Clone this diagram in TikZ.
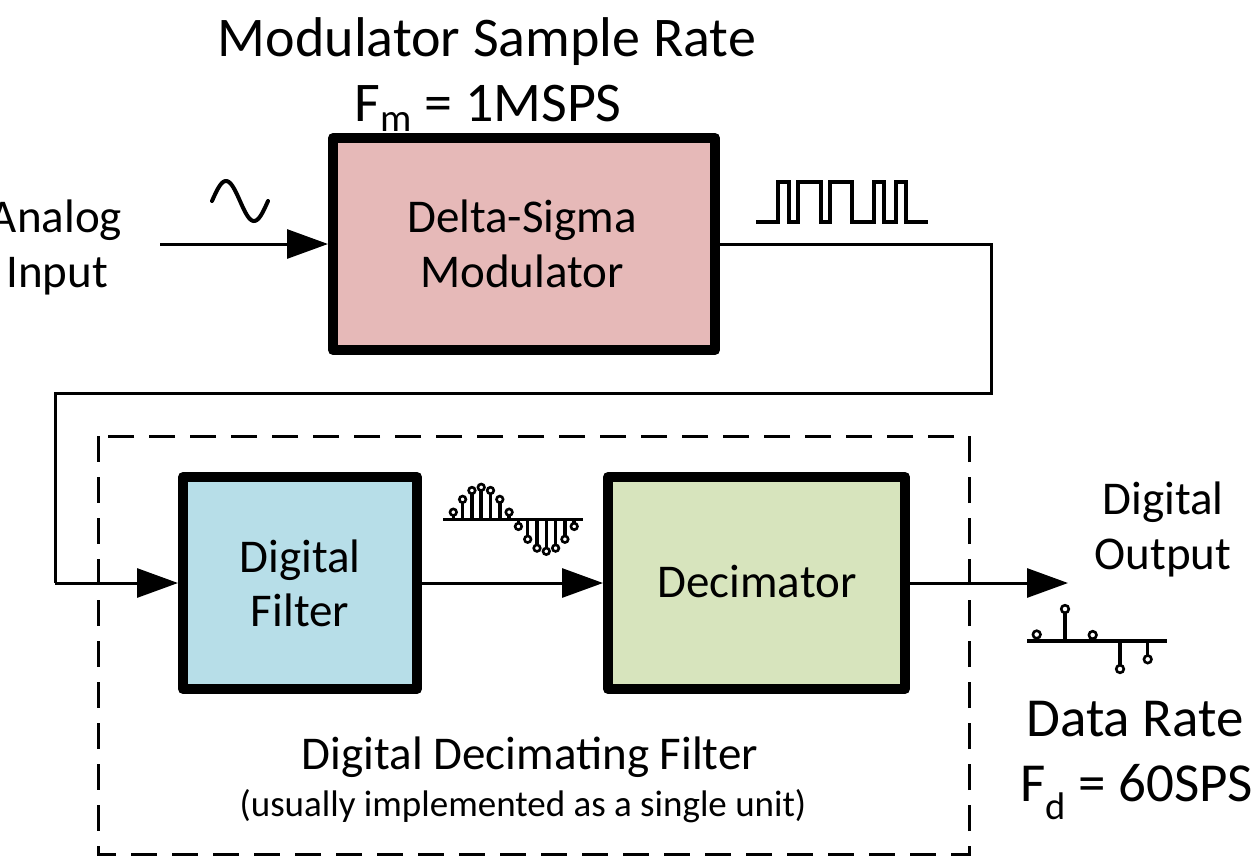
\documentclass[tikz,border=0pt]{standalone}
\usepackage{fontspec}
\setmainfont{Carlito}
\usetikzlibrary{arrows.meta}
\definecolor{modfill}{HTML}{E6B9B8}
\definecolor{filtfill}{HTML}{B7DEE8}
\definecolor{decfill}{HTML}{D7E4BD}
\begin{document}
\begin{tikzpicture}[x=1pt,y=-1pt,
  blockbox/.style={draw=black,line width=10pt,line join=round,inner sep=0pt},
  wire/.style={line width=3pt},
  arr/.style={wire,-{Triangle[length=41pt,width=29pt]}},
  lbl/.style={inner sep=0pt,anchor=base,font=\fontsize{47}{55}\selectfont},
  biglbl/.style={inner sep=0pt,anchor=base,font=\fontsize{56}{64}\selectfont},
  smalllbl/.style={inner sep=0pt,anchor=base,font=\fontsize{37}{44}\selectfont},
  sig/.style={line width=4pt,line join=miter},
  stem/.style={line width=3.5pt},
  dot/.style={line width=2.6pt,fill=white}]
\useasboundingbox (0,0) rectangle (1257,860);
% dashed enclosure
\draw[line width=3pt,dash pattern=on 26pt off 15pt] (98,436) rectangle (969,854);
% blocks
\node[blockbox,fill=modfill,minimum width=382pt,minimum height=212pt] (mod) at (524,244) {};
\node[blockbox,fill=filtfill,minimum width=234pt,minimum height=212pt] (filt) at (300,583) {};
\node[blockbox,fill=decfill,minimum width=297pt,minimum height=212pt] (dec) at (756.5,583) {};
% block labels
\node[lbl] (t1) at (522,232) {Delta-Sigma};
\node[lbl] (t2) at (522,287) {Modulator};
\node[lbl] (t3) at (300,572) {Digital};
\node[lbl] (t4) at (300,626) {Filter};
\node[lbl] (t5) at (757,597) {Decimator};
% other labels
\node[biglbl] (title1) at (487,56) {Modulator Sample Rate};
\node[biglbl] (title2) at (488,121) {F\textsubscript{m} = 1MSPS};
\node[lbl] (ain1) at (56,232) {Analog};
\node[lbl] (ain2) at (57,287) {Input};
\node[lbl] (dout1) at (1163,514) {Digital};
\node[lbl] (dout2) at (1163,569) {Output};
\node[biglbl,font=\fontsize{55}{64}\selectfont] (dr1) at (1135,736) {Data Rate};
\node[biglbl,font=\fontsize{55}{64}\selectfont,anchor=base west] (dr2) at (1020,801) {F\textsubscript{d} = 60SPS};
\node[lbl] (ddf1) at (530,769) {Digital Decimating Filter};
\node[smalllbl] (ddf2) at (523,816) {(usually implemented as a single unit)};
% connectors
\coordinate (inp) at (160,244);
\draw[arr] (inp) -- (mod.west);
\coordinate (c1) at (991,244);
\coordinate (c2) at (991,393);
\coordinate (c3) at (55,393);
\coordinate (c4) at (55,583);
\draw[wire,line join=miter] (mod.east) -- (c1) -- (c2) -- (c3) -- (c4);
\draw[arr] (c4) -- (filt.west);
\draw[arr] (filt.east) -- (dec.west);
\coordinate (outp) at (1068,583);
\draw[arr] (dec.east) -- (outp);
% sine glyph
\draw[sig,line cap=round] plot[domain=0:360,samples=72,variable=\t] ({212+\t/360*56},{201-20*sin(\t)});
% pulse train
\draw[sig] (756,222) -| (778,182) -| (789,222) -| (798,182) -| (821,222) -| (830,182) -| (852,222) -| (874,182) -| (884,222) -| (896,182) -| (906,222) -- (928,222);
% sampled sine
\draw[stem] (443,519.3) -- (583,519.3);
\foreach \k in {0,...,13}{
  \pgfmathsetmacro\xx{453.3+9.3*\k}
  \pgfmathsetmacro\yy{519.3-32*sin((\k+0.5)*180/7)}
  \draw[stem] (\xx,519.3) -- (\xx,\yy);
  \draw[dot] (\xx,\yy) circle[radius=3.3pt];
}
% output samples
\draw[stem] (1027,641) -- (1167,641);
\foreach \xx/\yy in {1036.7/634.5,1065/609,1092.7/635,1120/669,1147.7/659.3}{
  \draw[stem] (\xx,641) -- (\xx,\yy);
  \draw[dot] (\xx,\yy) circle[radius=3.8pt];
}
\end{tikzpicture}
\end{document}
